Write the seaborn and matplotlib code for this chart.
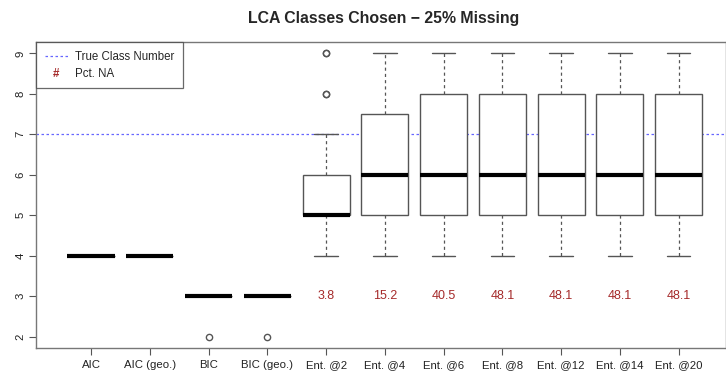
import numpy as np
import pandas as pd
import matplotlib
matplotlib.use("Agg")
import matplotlib.pyplot as plt
from matplotlib.lines import Line2D
import seaborn as sns

# Number of latent classes chosen by each criterion, as counts per class number
methods = ["AIC", "AIC (geo.)", "BIC", "BIC (geo.)", "Ent. @2", "Ent. @4",
           "Ent. @6", "Ent. @8", "Ent. @12", "Ent. @14", "Ent. @20"]
class_values = [2, 3, 4, 5, 6, 7, 8, 9]
aic_counts      = [0, 0, 79, 0, 0, 0, 0, 0]
aic_geo_counts  = [0, 0, 79, 0, 0, 0, 0, 0]
bic_counts      = [1, 78, 0, 0, 0, 0, 0, 0]
bic_geo_counts  = [1, 78, 0, 0, 0, 0, 0, 0]
ent2_counts     = [0, 0, 8, 38, 20, 6, 2, 2]
ent4_counts     = [0, 0, 6, 16, 20, 8, 10, 7]
ent6_counts     = [0, 0, 5, 9, 12, 8, 8, 5]
ent8_counts     = [0, 0, 4, 8, 10, 7, 7, 5]
ent12_counts    = [0, 0, 4, 8, 10, 7, 7, 5]
ent14_counts    = [0, 0, 4, 8, 10, 7, 7, 5]
ent20_counts    = [0, 0, 4, 8, 10, 7, 7, 5]

# Percentage of runs with no class chosen (entropy criteria only)
pct_na_methods = ["Ent. @2", "Ent. @4", "Ent. @6", "Ent. @8",
                  "Ent. @12", "Ent. @14", "Ent. @20"]
pct_na = [3.8, 15.2, 40.5, 48.1, 48.1, 48.1, 48.1]
true_classes = 7

all_counts = [aic_counts, aic_geo_counts, bic_counts, bic_geo_counts,
              ent2_counts, ent4_counts, ent6_counts, ent8_counts,
              ent12_counts, ent14_counts, ent20_counts]
rows = []
for m, counts in zip(methods, all_counts):
    for k, c in zip(class_values, counts):
        rows.extend([(m, k)] * c)
df = pd.DataFrame(rows, columns=["method", "classes"])

sns.set_style("white")
plt.rcParams["font.family"] = ["Liberation Sans", "DejaVu Sans"]

W, H = 726, 377
fig = plt.figure(figsize=(W / 100, H / 100), dpi=100)
ax_left, ax_right, ax_top, ax_bottom = 36, 726, 42, 348
ax = fig.add_axes([ax_left / W, (H - ax_bottom) / H,
                   (ax_right - ax_left) / W, (ax_bottom - ax_top) / H])

edge = "#555555"
na_color = "#a52a2a"
line_blue = "#6666ff"
sns.boxplot(data=df, x="method", y="classes", order=methods, ax=ax,
            width=0.8, color="white", linecolor=edge, linewidth=1.0,
            whis=1.5, fill=True,
            medianprops=dict(color="black", linewidth=3, solid_capstyle="butt"),
            whiskerprops=dict(color=edge, linestyle=(0, (2.5, 2.5)), linewidth=0.9),
            capprops=dict(color=edge, linewidth=1.0),
            boxprops=dict(edgecolor=edge, facecolor="white", linewidth=1.0),
            flierprops=dict(marker="o", markerfacecolor="none",
                            markeredgecolor=edge, markersize=4.5,
                            markeredgewidth=1.0))

# Reference line at the true number of classes
ax.axhline(true_classes, color=line_blue, linestyle=(0, (2, 2)),
           linewidth=0.9, zorder=0.5)

# Percentage of missing choices written under each entropy box
for m, p in zip(pct_na_methods, pct_na):
    ax.text(methods.index(m), 3, f"{p:.1f}", color=na_color,
            ha="center", va="center", fontsize=9)

ax.set_xlim(-0.936, 10.805)
ax.set_ylim(1.72, 9.28)
ax.set_yticks(range(2, 10))
ax.set_yticklabels([str(v) for v in range(2, 10)], rotation=90, va="center")
ax.set_xlabel("")
ax.set_ylabel("")
ax.tick_params(axis="both", which="both", direction="out", length=5,
               width=0.8, color=edge, labelsize=8.2,
               left=True, bottom=True, labelcolor="#222222")
ax.tick_params(axis="x", pad=3.5)
ax.tick_params(axis="y", pad=2.5)
for side in ["left", "bottom", "top", "right"]:
    ax.spines[side].set_visible(True)
    ax.spines[side].set_color("#777777")
    ax.spines[side].set_linewidth(1.0)

handles = [
    Line2D([], [], color=line_blue, linestyle=(0, (2, 2)), linewidth=0.9),
    Line2D([], [], color="none", linestyle="none"),
]
leg = ax.legend(handles, ["True Class Number", "Pct. NA"], loc="upper left",
                bbox_to_anchor=(0, 1), borderaxespad=0, frameon=True,
                fancybox=False, fontsize=8.3, handlelength=2.0,
                handletextpad=0.6, borderpad=0.75, labelspacing=0.45)
leg.get_frame().set_edgecolor("#444444")
leg.get_frame().set_linewidth(0.9)

# Draw the "#" symbol as text in the legend's second handle slot
fig.canvas.draw()
handle_artists = leg.legend_handles
texts = leg.get_texts()
bb_line = handle_artists[0].get_window_extent()
bb_txt = texts[1].get_window_extent()
inv = fig.transFigure.inverted()
cx, cy = inv.transform(((bb_line.x0 + bb_line.x1) / 2,
                        (bb_txt.y0 + bb_txt.y1) / 2))
fig.text(cx, cy, "#", color=na_color, ha="center", va="center",
         fontsize=8.3, fontweight="bold")

fig.text(384 / W, 1 - 18 / H, "LCA Classes Chosen \u2212 25% Missing",
         ha="center", va="center", fontsize=11.4, fontweight="bold")

fig.savefig("out.png", dpi=100, facecolor="white")
